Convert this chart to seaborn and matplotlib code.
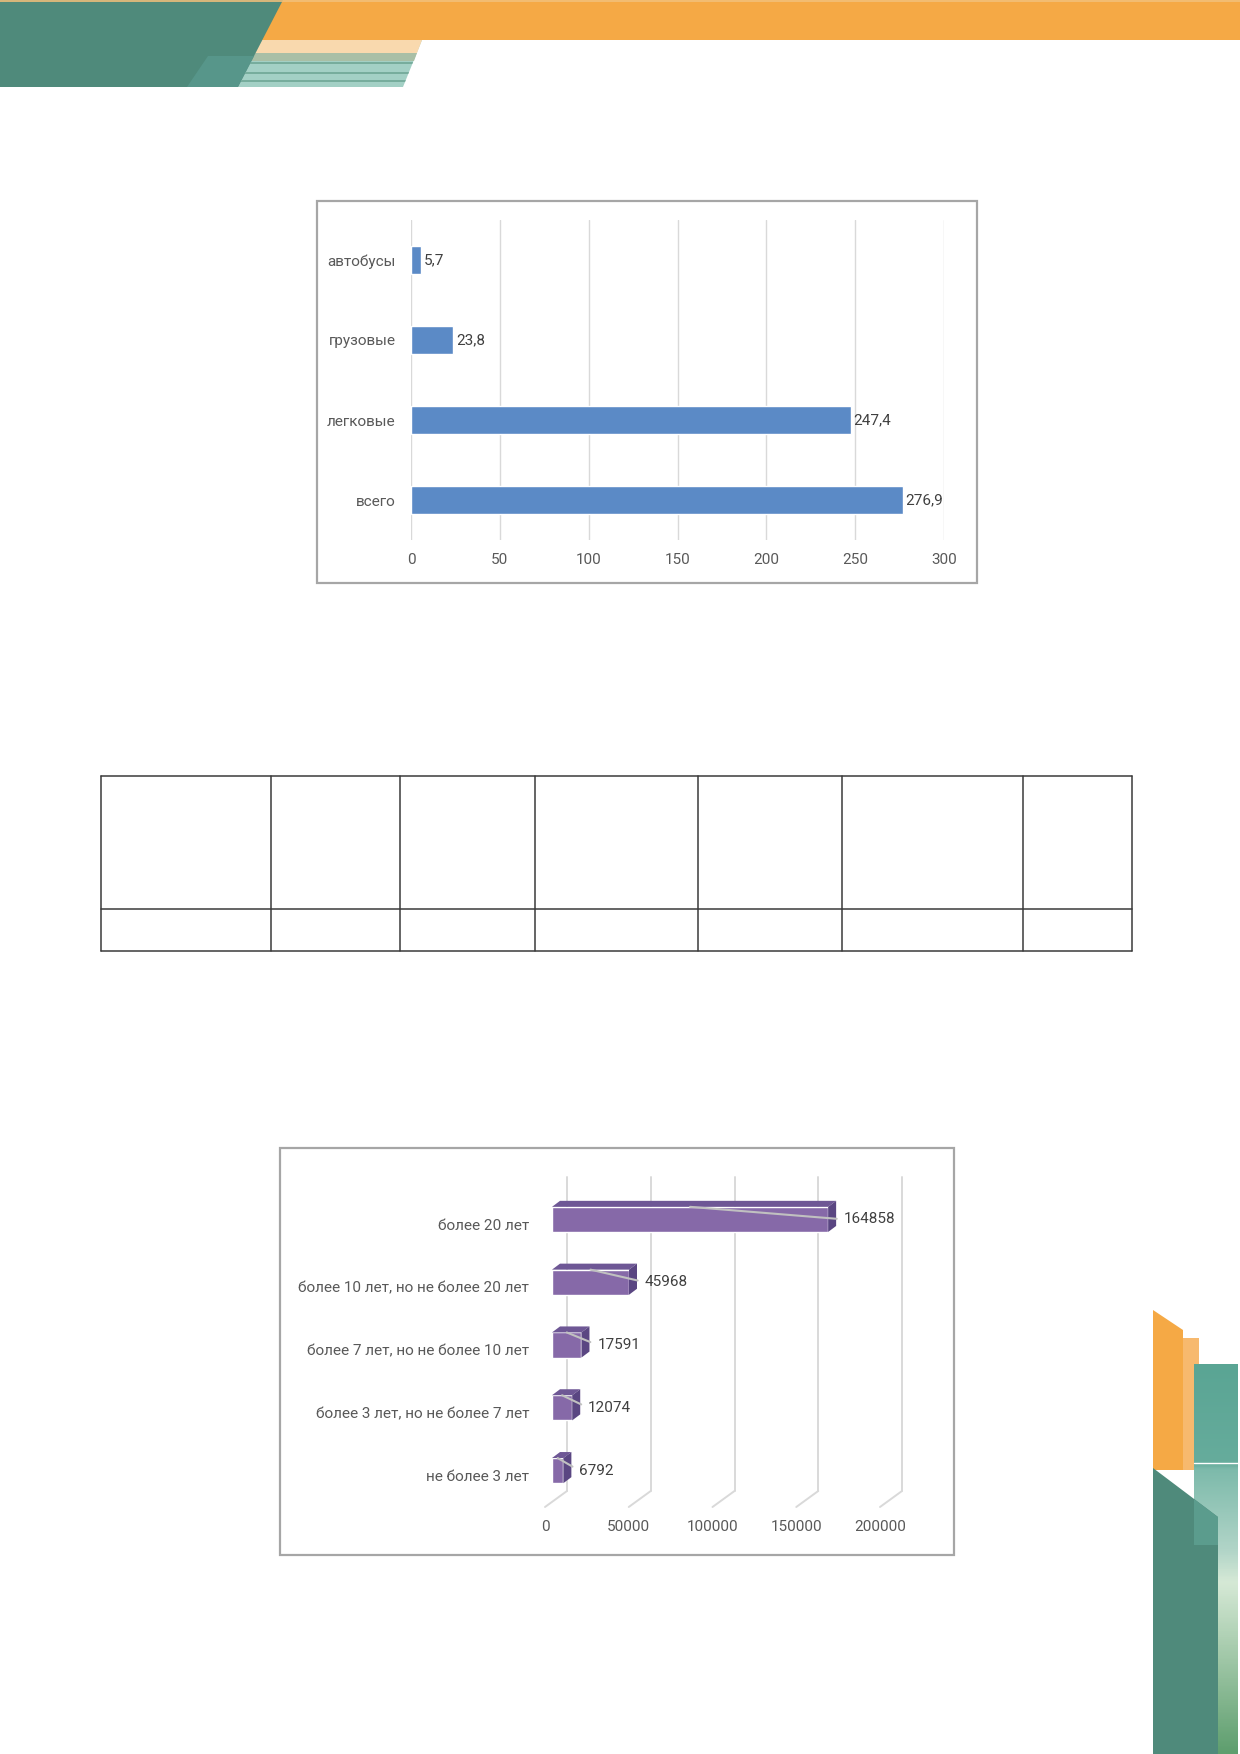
"""
plot.py
---------------------------------------------------
Page with two bar charts (vehicle fleet by type, vehicles by age)
plus the empty table grid and the page decoration.
Output: out.png (1240 x 1754 px)
---------------------------------------------------
"""

import matplotlib
matplotlib.use("Agg")
import matplotlib.pyplot as plt
import matplotlib.patches as mpatches
from matplotlib.colors import LinearSegmentedColormap
from matplotlib.transforms import offset_copy
import numpy as np
import seaborn as sns

W, H = 1240, 1754

# chart 1: fleet by vehicle type
vehicle_types = ["автобусы", "грузовые", "легковые", "всего"]
vehicle_values = [5.7, 23.8, 247.4, 276.9]
vehicle_ticks = [0, 50, 100, 150, 200, 250, 300]

# chart 2: fleet by age
age_groups = [
    "более 20 лет",
    "более 10 лет, но не более 20 лет",
    "более 7 лет, но не более 10 лет",
    "более 3 лет, но не более 7 лет",
    "не более 3 лет",
]
age_values = [164858, 45968, 17591, 12074, 6792]
age_ticks = [0, 50000, 100000, 150000, 200000]

# empty table grid (page pixels)
table_rows_y = [776, 909, 951]
table_cols_x = [101, 271, 400, 535, 698, 842, 1023, 1132]

BLUE = "#5B8AC6"
PURPLE = "#8669A8"
PURPLE_TOP = "#6E5795"
PURPLE_SIDE = "#5A4682"
GREEN = "#4F8A7B"
ORANGE = "#F5A945"
GRID = "#D9D9D9"
TICK = "#595959"
LABEL = "#404040"

sns.set_theme(style="white")
plt.rcParams["font.family"] = ["Roboto", "DejaVu Sans"]

fig = plt.figure(figsize=(W / 100, H / 100), dpi=100)


def px_axes(x0, y0, x1, y1, **kw):
    return fig.add_axes([x0 / W, 1 - y1 / H, (x1 - x0) / W, (y1 - y0) / H], **kw)


# ===========================================================
# Background: page decoration, chart frames, table lines
# ===========================================================
bg = fig.add_axes([0, 0, 1, 1], zorder=-5)
bg.set_xlim(0, W)
bg.set_ylim(H, 0)
bg.axis("off")

# top band
bg.add_patch(mpatches.Rectangle((0, 0), W, 40, color=ORANGE, lw=0))
bg.plot([0, W], [1, 1], color="#F2C07A", lw=1.2)
strip = mpatches.Polygon([(262, 40), (422, 40), (403, 87), (238, 87)], closed=True,
                         color="#A3D0C5", lw=0)
bg.add_patch(strip)
bg.add_patch(mpatches.Polygon([(262, 40), (422, 40), (417, 53), (255, 53)],
                              color="#F9D9AE", lw=0))
bg.add_patch(mpatches.Polygon([(255, 53), (417, 53), (414, 61), (251, 61)],
                              color="#A9BFA6", lw=0))
for yy in [63, 73, 81]:
    ln, = bg.plot([230, 430], [yy, yy], color="#6FA696", lw=1.2)
    ln.set_clip_path(strip)
bg.add_patch(mpatches.Polygon([(0, 0), (283, 0), (238, 87), (0, 87)], color=GREEN, lw=0))
# lighter overlay inside the green block
bg.add_patch(mpatches.Polygon([(208, 56), (254, 56), (238, 87), (187, 87)],
                              color="#57968A", lw=0))

# right side decoration
bg.add_patch(mpatches.Polygon([(1153, 1310), (1183, 1330), (1183, 1470), (1153, 1470)],
                              color=ORANGE, lw=0))
bg.add_patch(mpatches.Rectangle((1183, 1338), 16, 132, color="#F7B96E", lw=0))
grad = LinearSegmentedColormap.from_list(
    "side", [(0, "#5AA594"), (0.25, "#66AC9C"), (0.27, "#7DBAAB"),
             (0.48, "#B2D5C8"), (0.56, "#D6E9D6"), (1, "#5E9E6E")])
bg.imshow(np.linspace(0, 1, 200).reshape(-1, 1), cmap=grad, aspect="auto",
          extent=(1194, 1238, 1754, 1364), zorder=1)
bg.plot([1194, 1238], [1463, 1463], color="white", lw=1, zorder=2)
bg.add_patch(mpatches.Polygon([(1153, 1468), (1218, 1517), (1218, 1754), (1153, 1754)],
                              color=GREEN, lw=0, zorder=3))
bg.add_patch(mpatches.Polygon([(1194, 1499), (1218, 1517), (1218, 1545), (1194, 1545)],
                              color="#5B9C8D", lw=0, zorder=3))

# chart frames
bg.add_patch(mpatches.Rectangle((317, 201), 660, 382, fill=False, ec="#A6A6A6", lw=1.6))
bg.add_patch(mpatches.Rectangle((280, 1148), 674, 407, fill=False, ec="#A6A6A6", lw=1.6))

# table grid
for yy in table_rows_y:
    bg.plot([table_cols_x[0], table_cols_x[-1]], [yy, yy], color="#3A3A3A", lw=1.1)
for xx in table_cols_x:
    bg.plot([xx, xx], [table_rows_y[0], table_rows_y[-1]], color="#3A3A3A", lw=1.1)

# ===========================================================
# Chart 1: flat horizontal bars
# ===========================================================
ax1 = px_axes(411, 220, 944, 540)
sns.barplot(x=vehicle_values, y=vehicle_types, color=BLUE, saturation=1,
            width=0.35, ax=ax1)
ax1.set_xlim(0, 300)
ax1.set_ylim(3.5, -0.5)
ax1.set_xticks(vehicle_ticks)
ax1.xaxis.grid(True, color=GRID, lw=1)
ax1.set_axisbelow(True)
for s in ax1.spines.values():
    s.set_visible(False)
ax1.tick_params(axis="x", length=0, pad=9.5, labelsize=11, labelcolor=TICK)
ax1.tick_params(axis="y", length=0, pad=11, labelsize=11, labelcolor=TICK)
ax1.set_xlabel("")
ax1.set_ylabel("")
ax1.bar_label(ax1.containers[0],
              labels=[f"{v:.1f}".replace(".", ",") for v in vehicle_values],
              padding=2, fontsize=11, color=LABEL)

# ===========================================================
# Chart 2: pseudo-3D horizontal bars
# ===========================================================
ax2 = px_axes(552, 1188, 887, 1502)
sns.barplot(x=age_values, y=age_groups, color=PURPLE, saturation=1,
            width=0.4, ax=ax2, zorder=2)
xmax = age_ticks[-1]
ax2.set_xlim(0, xmax)
ax2.set_ylim(len(age_groups) - 0.5, -0.5)
for s in ax2.spines.values():
    s.set_visible(False)
ax2.set_xlabel("")
ax2.set_ylabel("")

# pixel -> data unit conversion for the depth effect
pos = ax2.get_position()
ux = xmax / (pos.width * W)
uy = len(age_groups) / (pos.height * H)


def shift(x, y, dx_px, dy_px):
    # dy_px > 0 means up on the page (y axis is inverted)
    return (x + dx_px * ux, y - dy_px * uy)


# back wall gridlines and floor slants
y_floor = len(age_groups) - 0.5
for t in age_ticks:
    bx, by_bot = shift(t, y_floor, 15, 11)
    _, by_top = shift(t, -0.5, 15, 11)
    fx, fy = shift(t, y_floor, -7, -5)
    ax2.plot([bx, bx], [by_top, by_bot], color=GRID, lw=1.4, clip_on=False, zorder=0.5)
    ax2.plot([bx, fx], [by_bot, fy], color=GRID, lw=1.4, clip_on=False, zorder=0.5)

# top and side faces
for bar, v in zip(ax2.patches, age_values):
    y0 = bar.get_y()
    h = bar.get_height()
    top = [(0, y0), (v, y0), shift(v, y0, 8, 6), shift(0, y0, 8, 6)]
    side = [(v, y0), shift(v, y0, 8, 6), shift(v, y0 + h, 8, 6), (v, y0 + h)]
    ax2.add_patch(mpatches.Polygon(top, color=PURPLE_TOP, lw=0, zorder=2.5, clip_on=False))
    ax2.add_patch(mpatches.Polygon(side, color=PURPLE_SIDE, lw=0, zorder=2.5, clip_on=False))

# data labels with leader lines
for i, v in enumerate(age_values):
    ax2.annotate(str(v), xy=(v / 2, i - 0.2), xytext=(v, i),
                 textcoords=offset_copy(ax2.transData, fig=fig, x=16, y=0, units="dots"),
                 ha="left", va="center", fontsize=11, color=LABEL, zorder=4,
                 arrowprops=dict(arrowstyle="-", color="#C0C0C0", lw=1.5,
                                 shrinkA=3, shrinkB=0, relpos=(0, 0.5)))

ax2.set_xticks(age_ticks)
ax2.tick_params(axis="x", length=0, pad=13, labelsize=11, labelcolor=TICK)
ax2.tick_params(axis="y", length=0, pad=16.5, labelsize=11, labelcolor=TICK)
# tick labels sit on the front plane of the 3D box
for lab in ax2.get_xticklabels():
    lab.set_transform(offset_copy(lab.get_transform(), fig=fig, x=-7, y=0, units="dots"))
for lab in ax2.get_yticklabels():
    lab.set_transform(offset_copy(lab.get_transform(), fig=fig, x=0, y=-5, units="dots"))

fig.savefig("out.png", dpi=100)
plt.close(fig)
